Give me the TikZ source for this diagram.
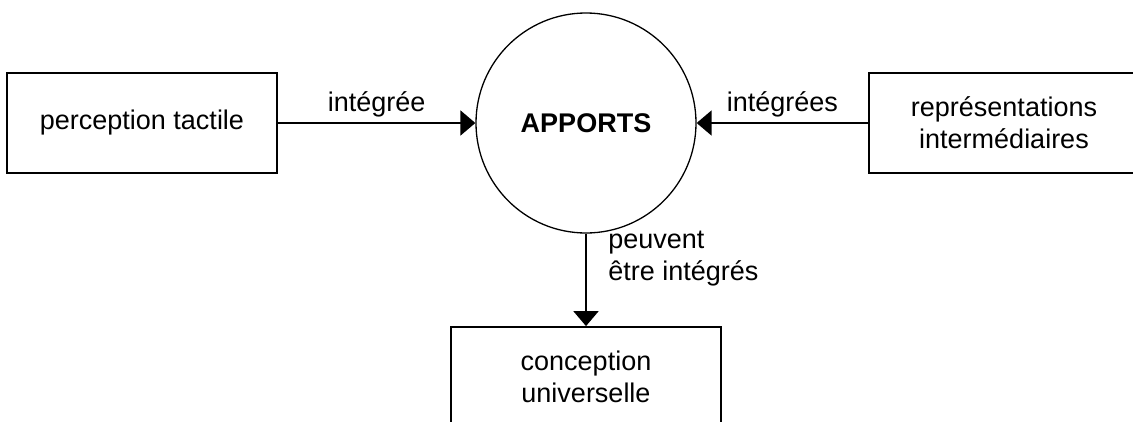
\documentclass[tikz,border=0pt]{standalone}
\usepackage{fontspec}
\setmainfont{Liberation Sans}
\usetikzlibrary{arrows.meta,positioning}

\begin{document}
\begin{tikzpicture}[x=1pt, y=-1pt, ->, >={Triangle[length=15pt,width=25pt]}, line width=2pt,
  every node/.style={font=\fontsize{27}{32}\selectfont},
  box/.style={draw, line width=1.8pt, minimum width=270pt, minimum height=100pt, align=center},
  hub/.style={circle, draw, line width=1.3pt, minimum size=220pt}]
  \useasboundingbox (0,0) rectangle (1133,421);
  \node[hub] (Apports) at (586,123) {\textbf{APPORTS}};
  \node[box, left of=Apports, node distance=444pt] (Tactile) {perception tactile};
  \node[box, right of=Apports, node distance=418pt] (Inter) {représentations\\intermédiaires};
  \node[box, below of=Apports, node distance=254pt] (Universelle) {conception\\universelle};

  \path
    (Tactile) edge node [above, yshift=2pt] {intégrée} (Apports)
    (Inter) edge node [above, yshift=2pt] {intégrées} (Apports)
    (Apports) edge node [right, pos=0.27, xshift=18pt, align=left] {peuvent\\être intégrés} (Universelle);
\end{tikzpicture}
\end{document}
